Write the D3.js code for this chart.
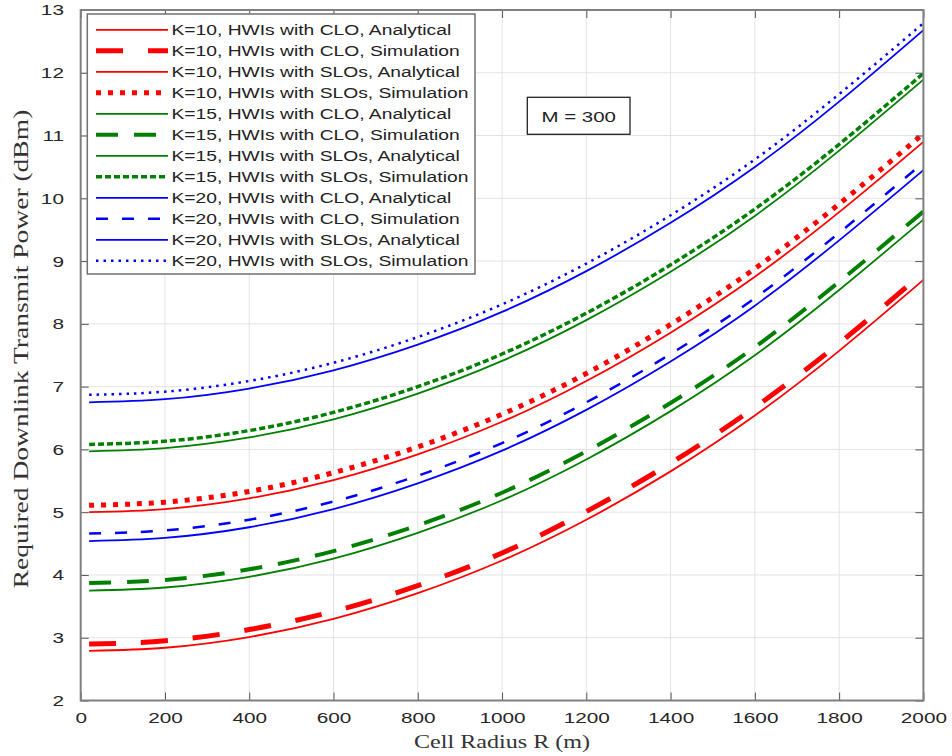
<!DOCTYPE html>
<html>
<head>
<meta charset="utf-8">
<script src="https://cdn.jsdelivr.net/npm/d3@7"></script>
<style>
  html, body { margin: 0; padding: 0; background: #fff; }
  svg { display: block; }
</style>
</head>
<body>
<svg id="chart" width="952" height="756"></svg>
<script>
// cell radius samples (m)
const radius = [20, 200, 400, 600, 800, 1000, 1200, 1400, 1600, 1800, 2000];

// required downlink transmit power (dBm)
const k10CloAna = [2.79, 2.84, 3.01, 3.30, 3.71, 4.23, 4.88, 5.65, 6.54, 7.57, 8.70];
const k10CloSim = [2.90, 2.95, 3.13, 3.42, 3.83, 4.35, 5.01, 5.78, 6.67, 7.69, 8.82];
const k10SloAna = [5.00, 5.05, 5.22, 5.51, 5.92, 6.44, 7.09, 7.86, 8.75, 9.78, 10.90];
const k10SloSim = [5.11, 5.16, 5.33, 5.63, 6.04, 6.56, 7.21, 7.99, 8.88, 9.91, 11.03];
const k15CloAna = [3.75, 3.80, 3.97, 4.26, 4.67, 5.19, 5.84, 6.61, 7.50, 8.54, 9.66];
const k15CloSim = [3.87, 3.92, 4.09, 4.38, 4.79, 5.31, 5.97, 6.74, 7.63, 8.67, 9.79];
const k15SloAna = [5.97, 6.02, 6.19, 6.48, 6.89, 7.41, 8.06, 8.83, 9.72, 10.76, 11.89];
const k15SloSim = [6.08, 6.13, 6.30, 6.59, 7.00, 7.52, 8.17, 8.94, 9.83, 10.86, 11.99];
const k20CloAna = [4.54, 4.59, 4.76, 5.05, 5.46, 5.98, 6.63, 7.40, 8.29, 9.33, 10.45];
const k20CloSim = [4.66, 4.71, 4.88, 5.17, 5.58, 6.10, 6.75, 7.52, 8.41, 9.45, 10.57];
const k20SloAna = [6.75, 6.80, 6.97, 7.26, 7.67, 8.19, 8.84, 9.61, 10.50, 11.54, 12.68];
const k20SloSim = [6.87, 6.92, 7.09, 7.38, 7.79, 8.31, 8.96, 9.73, 10.62, 11.66, 12.79];

const legendLabels = [
  "K=10, HWIs with CLO, Analytical",
  "K=10, HWIs with CLO, Simulation",
  "K=10, HWIs with SLOs, Analytical",
  "K=10, HWIs with SLOs, Simulation",
  "K=15, HWIs with CLO, Analytical",
  "K=15, HWIs with CLO, Simulation",
  "K=15, HWIs with SLOs, Analytical",
  "K=15, HWIs with SLOs, Simulation",
  "K=20, HWIs with CLO, Analytical",
  "K=20, HWIs with CLO, Simulation",
  "K=20, HWIs with SLOs, Analytical",
  "K=20, HWIs with SLOs, Simulation"
];

const xTickValues = [0, 200, 400, 600, 800, 1000, 1200, 1400, 1600, 1800, 2000];
const yTickValues = [2, 3, 4, 5, 6, 7, 8, 9, 10, 11, 12, 13];

const xTitle = "Cell Radius R (m)";
const yTitle = "Required Downlink Transmit Power (dBm)";
const noteText = "M = 300";

// ---- styling ----
const RED = "#ff0000", GREEN = "#008000", BLUE = "#0000ff";
const SX = 1.34;               // the picture is stretched horizontally
const sans = "'Liberation Sans', Arial, Helvetica, sans-serif";
const serif = "'Liberation Serif', 'Times New Roman', serif";

const styles = [
  { color: RED,   width: 1.8, dash: null },
  { color: RED,   width: 5,   dash: "27,25" },
  { color: RED,   width: 1.8, dash: null },
  { color: RED,   width: 5,   dash: "5,7" },
  { color: GREEN, width: 1.8, dash: null },
  { color: GREEN, width: 4,   dash: "22,16" },
  { color: GREEN, width: 1.8, dash: null },
  { color: GREEN, width: 3.5, dash: "6,3" },
  { color: BLUE,  width: 1.8, dash: null },
  { color: BLUE,  width: 2.5, dash: "12,14" },
  { color: BLUE,  width: 1.8, dash: null },
  { color: BLUE,  width: 2.5, dash: "2.5,5" }
];

const seriesData = [k10CloAna, k10CloSim, k10SloAna, k10SloSim,
                    k15CloAna, k15CloSim, k15SloAna, k15SloSim,
                    k20CloAna, k20CloSim, k20SloAna, k20SloSim];

const series = seriesData.map((vals, i) => ({
  label: legendLabels[i],
  values: vals.map((v, j) => ({ r: radius[j], p: v })),
  ...styles[i]
}));

const svg = d3.select("#chart");
const box = { left: 80.7, right: 923.4, top: 10, bottom: 700.5 };

const x = d3.scaleLinear().domain([0, 2000]).range([box.left, box.right]);
const y = d3.scaleLinear().domain([2, 13]).range([box.bottom, box.top]);

// grid
const grid = svg.append("g");
grid.selectAll("line.gx")
  .data(xTickValues)
  .enter().append("line")
  .attr("x1", d => x(d)).attr("x2", d => x(d))
  .attr("y1", box.top).attr("y2", box.bottom)
  .attr("stroke", "#e3e3e3").attr("stroke-width", 1);
grid.selectAll("line.gy")
  .data(yTickValues)
  .enter().append("line")
  .attr("x1", box.left).attr("x2", box.right)
  .attr("y1", d => y(d)).attr("y2", d => y(d))
  .attr("stroke", "#e3e3e3").attr("stroke-width", 1);

// curves
const line = d3.line()
  .x(d => x(d.r))
  .y(d => y(d.p))
  .curve(d3.curveNatural);

svg.append("g")
  .selectAll("path")
  .data(series)
  .enter().append("path")
  .attr("d", d => line(d.values))
  .attr("fill", "none")
  .attr("stroke", d => d.color)
  .attr("stroke-width", d => d.width)
  .attr("stroke-dasharray", d => d.dash);

// axes, ticks pointing inward on all four sides
function styleAxis(g) {
  g.select(".domain").remove();
  g.selectAll(".tick line").attr("stroke", "#555").attr("stroke-width", 1);
  g.selectAll("text")
    .attr("font-family", sans)
    .attr("font-size", 15.5)
    .attr("fill", "#262626")
    .attr("transform", `scale(${SX},1)`);
}

svg.append("g")
  .attr("transform", `translate(0,${box.bottom})`)
  .call(d3.axisBottom(x).tickValues(xTickValues).tickSize(-8).tickPadding(11).tickFormat(d3.format("d")))
  .call(styleAxis);
svg.append("g")
  .attr("transform", `translate(0,${box.top})`)
  .call(d3.axisTop(x).tickValues(xTickValues).tickSize(-8).tickFormat(""))
  .call(styleAxis);
svg.append("g")
  .attr("transform", `translate(${box.left},0)`)
  .call(d3.axisLeft(y).tickValues(yTickValues).tickSize(-8).tickPadding(12.5).tickFormat(d3.format("d")))
  .call(styleAxis);
svg.append("g")
  .attr("transform", `translate(${box.right},0)`)
  .call(d3.axisRight(y).tickValues(yTickValues).tickSize(-8).tickFormat(""))
  .call(styleAxis);

svg.append("rect")
  .attr("x", box.left).attr("y", box.top)
  .attr("width", box.right - box.left).attr("height", box.bottom - box.top)
  .attr("fill", "none").attr("stroke", "#808080").attr("stroke-width", 2);

// axis titles
svg.append("g")
  .attr("transform", `translate(${(box.left + box.right) / 2},748) scale(${SX},1)`)
  .append("text")
  .attr("text-anchor", "middle")
  .attr("font-family", serif).attr("font-size", 18).attr("fill", "#333")
  .text(xTitle);

// the y title is drawn taller along its reading direction, as in the picture
svg.append("g")
  .attr("transform", `translate(28,349) scale(1.2,1.53) rotate(-90)`)
  .append("text")
  .attr("text-anchor", "middle")
  .attr("font-family", serif).attr("font-size", 18).attr("fill", "#333")
  .text(yTitle);

// legend
const lg = svg.append("g");
lg.append("rect")
  .attr("x", 87.3).attr("y", 14).attr("width", 475 - 87.3).attr("height", 274 - 14)
  .attr("fill", "#fff").attr("stroke", "#707070").attr("stroke-width", 1.5);

const rows = lg.selectAll("g.row")
  .data(series)
  .enter().append("g")
  .attr("transform", (d, i) => `translate(0,${29.8 + i * 21})`);

rows.append("line")
  .attr("x1", 96).attr("x2", 168).attr("y1", 0).attr("y2", 0)
  .attr("stroke", d => d.color)
  .attr("stroke-width", d => d.width)
  .attr("stroke-dasharray", d => d.dash);

rows.append("g")
  .attr("transform", `translate(171.5,0) scale(1.375,1)`)
  .append("text")
  .attr("dy", "0.36em")
  .attr("font-family", sans).attr("font-size", 14).attr("fill", "#222")
  .text(d => d.label);

// M = 300 annotation
svg.append("rect")
  .attr("x", 527.3).attr("y", 97.3).attr("width", 102.7).attr("height", 37)
  .attr("fill", "#fff").attr("stroke", "#222").attr("stroke-width", 1.3);
svg.append("g")
  .attr("transform", `translate(578.7,116) scale(1.32,1)`)
  .append("text")
  .attr("text-anchor", "middle").attr("dy", "0.36em")
  .attr("font-family", sans).attr("font-size", 15.5).attr("fill", "#222")
  .text(noteText);
</script>
</body>
</html>
